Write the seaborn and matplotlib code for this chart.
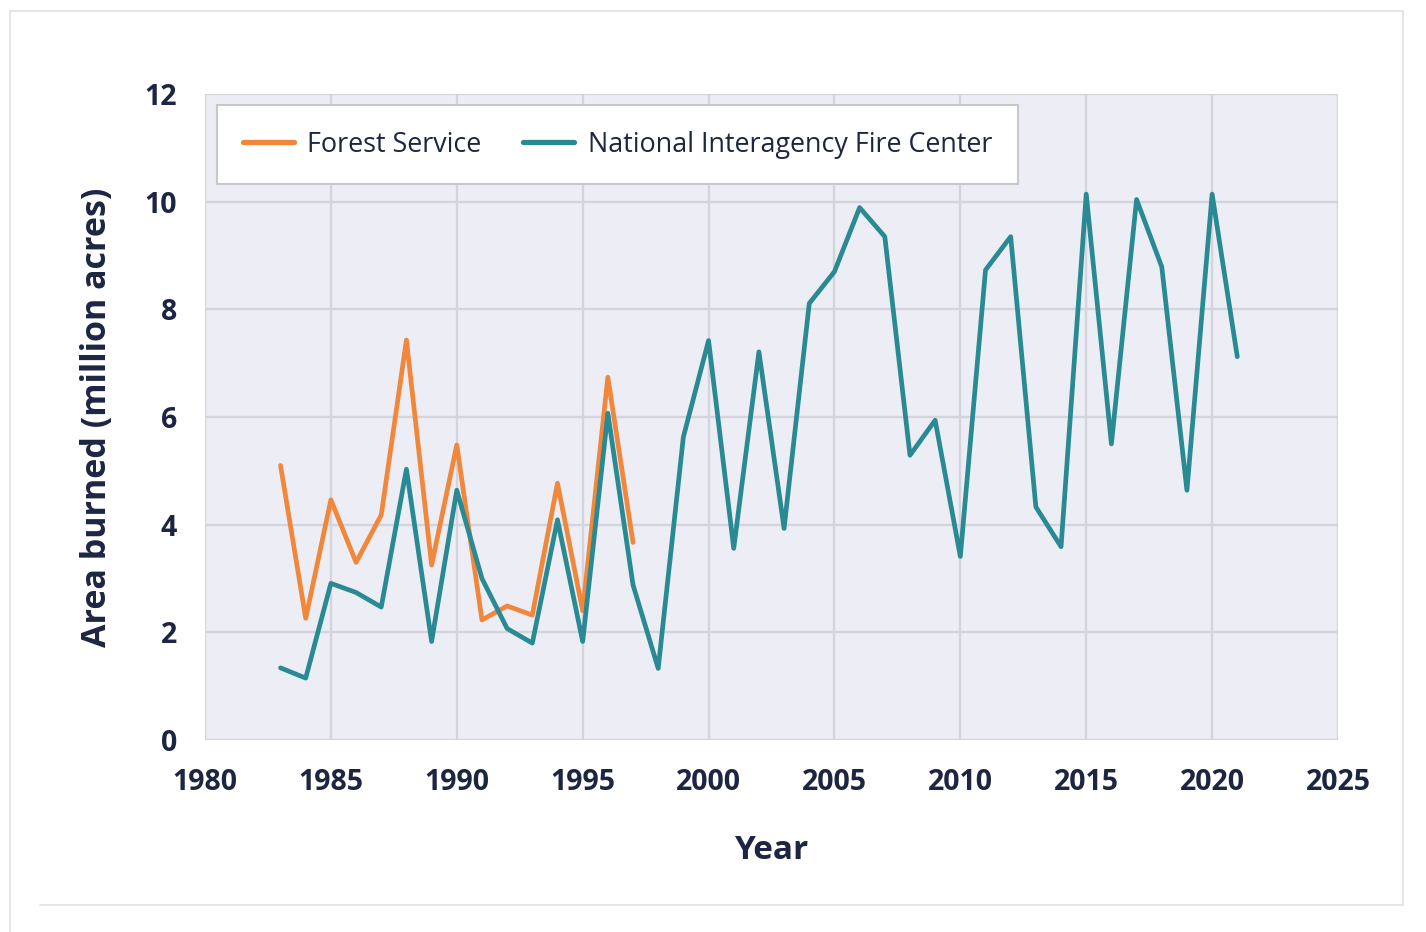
import matplotlib
matplotlib.use('Agg')
import matplotlib.pyplot as plt
import seaborn as sns
import pandas as pd
from matplotlib.lines import Line2D

# dane (mln akrow)
fs_years = list(range(1983, 1998))
fs_area = [5.10, 2.26, 4.46, 3.30, 4.18, 7.43, 3.25, 5.48, 2.23, 2.49, 2.32, 4.77, 2.40, 6.74, 3.67]

nifc_years = list(range(1983, 2022))
nifc_area = [1.34, 1.15, 2.91, 2.74, 2.47, 5.03, 1.83, 4.64, 3.00, 2.07, 1.80, 4.09, 1.83, 6.07,
             2.88, 1.33, 5.63, 7.42, 3.56, 7.21, 3.93, 8.11, 8.70, 9.89, 9.35, 5.29, 5.94, 3.41,
             8.73, 9.35, 4.33, 3.59, 10.14, 5.50, 10.04, 8.79, 4.64, 10.14, 7.12]

x_ticks = [1980, 1985, 1990, 1995, 2000, 2005, 2010, 2015, 2020, 2025]
y_ticks = [0, 2, 4, 6, 8, 10, 12]

ORANGE = '#f0873a'
TEAL = '#2a8a94'
NAVY = '#1c2541'

sns.set_theme(style='darkgrid', rc={'axes.facecolor': '#ededf5',
                                    'grid.color': '#d4d4dc',
                                    'grid.linewidth': 1.7})
plt.rcParams['font.family'] = ['Open Sans', 'DejaVu Sans']

df = pd.concat([
    pd.DataFrame({'year': fs_years, 'area': fs_area, 'source': 'Forest Service'}),
    pd.DataFrame({'year': nifc_years, 'area': nifc_area, 'source': 'National Interagency Fire Center'}),
])

fig = plt.figure(figsize=(14.26, 9.32), dpi=100)
ax = fig.add_axes([205 / 1426, 1 - 740 / 932, (1338 - 205) / 1426, (740 - 94) / 932])

sns.lineplot(data=df, x='year', y='area', hue='source',
             palette={'Forest Service': ORANGE, 'National Interagency Fire Center': TEAL},
             linewidth=3.4, ax=ax)

ax.set_xlim(1980, 2025)
ax.set_ylim(0, 12)
ax.set_xticks(x_ticks)
ax.set_yticks(y_ticks)
for s in ax.spines.values():
    s.set_visible(False)
ax.tick_params(axis='x', pad=20, length=0, labelsize=20.5, labelcolor=NAVY)
ax.tick_params(axis='y', pad=20, length=0, labelsize=20.5, labelcolor=NAVY)
for lab in ax.get_xticklabels() + ax.get_yticklabels():
    lab.set_fontweight('bold')

ax.set_xlabel('Year', fontsize=24, fontweight='bold', color=NAVY, labelpad=27)
ax.set_ylabel('Area burned (million acres)', fontsize=24.5, fontweight='bold', color=NAVY, labelpad=22)

leg = ax.legend(loc='upper left', ncol=2, fontsize=19.4, frameon=True, fancybox=False,
                bbox_to_anchor=(12 / 1133, 1 - 11 / 646), borderaxespad=0,
                handlelength=1.9, handletextpad=0.5, columnspacing=1.55,
                borderpad=0.95, framealpha=1)
leg.get_frame().set_edgecolor('#c8c8c8')
leg.get_frame().set_linewidth(1.5)
leg.get_frame().set_facecolor('white')
for t in leg.get_texts():
    t.set_color(NAVY)
for h in leg.get_lines():
    h.set_linewidth(3.8)

# ramka karty
W, H = 1426, 932
card = dict(color='#e2e2e2', linewidth=1.2, transform=fig.transFigure)
fig.add_artist(Line2D([10 / W, 10 / W], [0, 1 - 11 / H], **card))
fig.add_artist(Line2D([10 / W, 1403 / W], [1 - 11 / H, 1 - 11 / H], **card))
fig.add_artist(Line2D([1403 / W, 1403 / W], [1 - 11 / H, 1 - 905 / H], **card))
fig.add_artist(Line2D([40 / W, 1403 / W], [1 - 905 / H, 1 - 905 / H], **card))

fig.savefig('out.png', dpi=100, facecolor='white')
